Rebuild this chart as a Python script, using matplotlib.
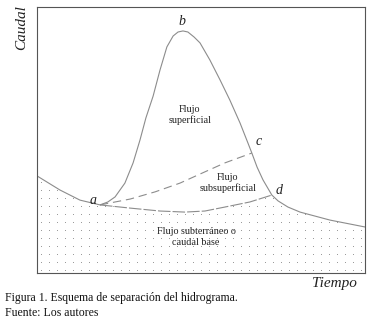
import numpy as np
import matplotlib
matplotlib.use('Agg')
import matplotlib.pyplot as plt
from matplotlib.patches import Polygon

plt.rcParams['font.family'] = ['Liberation Serif', 'DejaVu Serif']
plt.rcParams['lines.scale_dashes'] = False

# hydrograph (time, discharge), arbitrary units 0-100
hydro_t = [0, 7.0, 13.1, 19.2, 21.6, 23.8, 26.8, 29.3, 31.4, 33.2, 35.4, 37.5,
           39.6, 41.5, 43.0, 44.5, 46.0, 47.9, 49.7, 52.7, 55.8, 58.8, 61.9,
           64.3, 65.5, 67.1, 68.9, 71.6, 73.5, 76.5, 80.2, 89.3, 100]
hydro_q = [36.5, 31.2, 27.4, 25.6, 26.7, 28.6, 33.8, 41.4, 50.0, 58.3, 66.5, 76.3,
           85.0, 89.1, 90.6, 91.0, 90.6, 88.7, 86.5, 80.1, 72.6, 65.0, 56.4,
           48.9, 45.1, 39.8, 35.0, 29.3, 27.1, 24.8, 22.9, 19.9, 17.3]

# separation line between surface and subsurface flow (a -> c)
inter_t = [19.2, 28.4, 36.0, 43.6, 49.7, 57.3, 65.5]
inter_q = [25.6, 27.8, 30.5, 33.8, 37.2, 41.4, 45.1]

# baseflow separation (a -> d)
base_t = [19.2, 28.4, 37.5, 45.1, 51.2, 57.3, 64.9, 71.6]
base_q = [25.6, 24.4, 23.3, 22.9, 23.3, 24.8, 26.7, 29.3]

point_labels = ['a', 'b', 'c', 'd']
point_t = [17.1, 44.2, 67.6, 73.8]
point_q = [27.4, 94.7, 49.6, 31.2]

fig = plt.figure(figsize=(3.8, 3.21), dpi=100)
ax = fig.add_axes([37/380, 1 - 273/321, 328/380, 266/321])
ax.set_xlim(0, 100)
ax.set_ylim(0, 100)
ax.set_xticks([])
ax.set_yticks([])
for s in ax.spines.values():
    s.set_color('#555555')
    s.set_linewidth(0.8)

gray = '#8c8c8c'
ax.plot(hydro_t, hydro_q, color=gray, lw=0.8)
ax.plot(inter_t, inter_q, color=gray, lw=0.8, linestyle=(0, (6, 3.5)))
ax.plot(base_t, base_q, color=gray, lw=0.8, linestyle=(0, (9, 1.5)))

# dotted area under the baseflow
i_a = hydro_t.index(base_t[0])
i_d = hydro_t.index(base_t[-1])
poly_t = hydro_t[:i_a] + base_t + hydro_t[i_d + 1:] + [100, 0]
poly_q = hydro_q[:i_a] + base_q + hydro_q[i_d + 1:] + [0, 0]
region = Polygon(np.column_stack([poly_t, poly_q]), closed=True,
                 facecolor='none', edgecolor='none')
ax.add_patch(region)
gx, gy = np.meshgrid(np.arange(1.2, 100, 2.44), np.arange(1.2, 100, 3.0))
dots = ax.scatter(gx.ravel(), gy.ravel(), s=0.35, color='#808080', linewidths=0)
dots.set_clip_path(region)

txt = '#222222'
ax.text(46.6, 59.4, 'Flujo\nsuperficial', ha='center', va='center',
        fontsize=7.3, color=txt, linespacing=1.1)
ax.text(58.2, 33.8, 'Flujo\nsubsuperficial', ha='center', va='center',
        fontsize=7.3, color=txt, linespacing=1.1)
ax.text(48.5, 13.5, 'Flujo subterráneo o\ncaudal base', ha='center', va='center',
        fontsize=7.3, color=txt, linespacing=1.3)

for lab, t, q in zip(point_labels, point_t, point_q):
    ax.text(t, q, lab, ha='center', va='center', fontsize=10,
            style='italic', color=txt)

fig.text(22/380, 1 - 28/321, 'Caudal', rotation=90, ha='center', va='center',
         fontsize=11, style='italic', color=txt)
fig.text(357/380, 1 - 283/321, 'Tiempo', ha='right', va='center',
         fontsize=11, style='italic', color=txt)

fig.text(5/380, 1 - 298/321, 'Figura 1. Esquema de separación del hidrograma.',
         ha='left', va='center', fontsize=8.5, color='#111111')
fig.text(5/380, 1 - 313/321, 'Fuente: Los autores',
         ha='left', va='center', fontsize=8.5, color='#111111')

fig.savefig('out.png', dpi=100)
